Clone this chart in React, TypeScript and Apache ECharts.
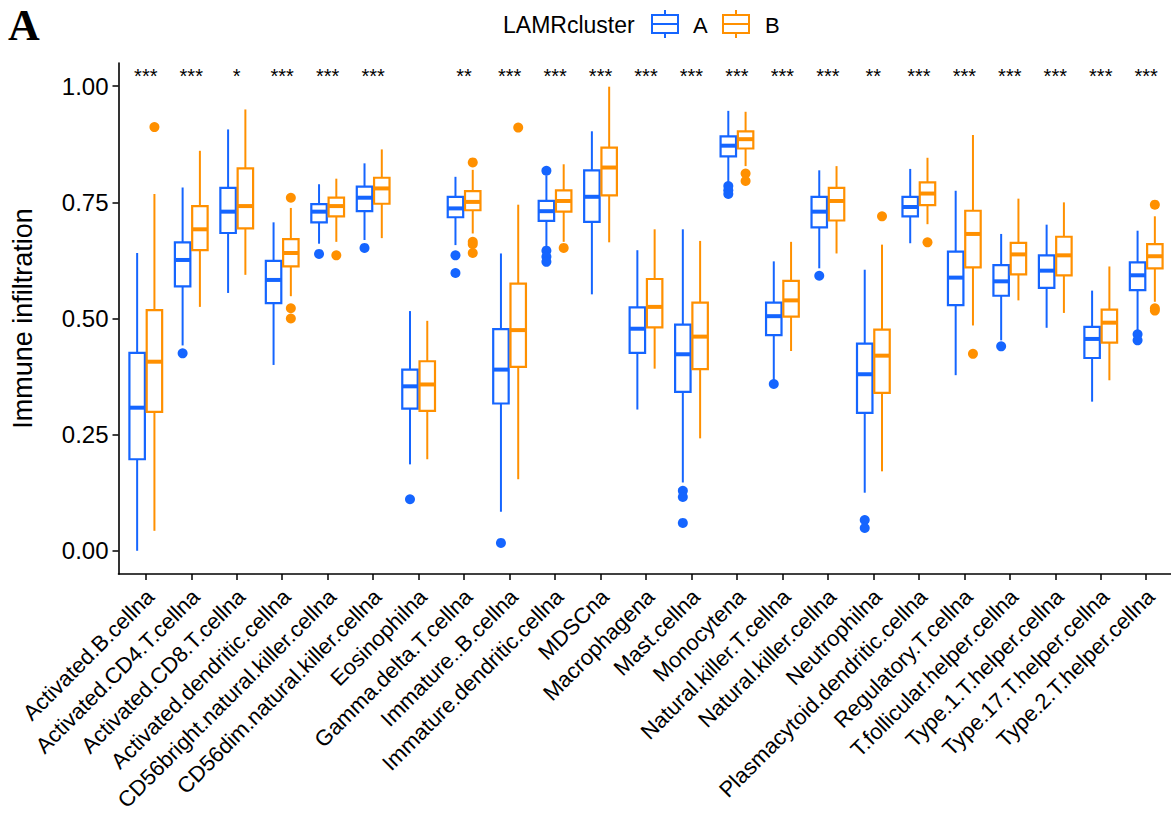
import React, { useEffect, useRef } from "react";
import * as echarts from "echarts";

const categories = [
  "Activated.B.cellna", "Activated.CD4.T.cellna", "Activated.CD8.T.cellna",
  "Activated.dendritic.cellna", "CD56bright.natural.killer.cellna",
  "CD56dim.natural.killer.cellna", "Eosinophilna", "Gamma.delta.T.cellna",
  "Immature..B.cellna", "Immature.dendritic.cellna", "MDSCna", "Macrophagena",
  "Mast.cellna", "Monocytena", "Natural.killer.T.cellna", "Natural.killer.cellna",
  "Neutrophilna", "Plasmacytoid.dendritic.cellna", "Regulatory.T.cellna",
  "T.follicular.helper.cellna", "Type.1.T.helper.cellna",
  "Type.17.T.helper.cellna", "Type.2.T.helper.cellna",
];

// [lower whisker, Q1, median, Q3, upper whisker]
const boxA = [
  [0.0, 0.197, 0.308, 0.426, 0.641],
  [0.442, 0.569, 0.626, 0.664, 0.782],
  [0.555, 0.684, 0.73, 0.781, 0.907],
  [0.4, 0.533, 0.583, 0.624, 0.707],
  [0.661, 0.707, 0.73, 0.746, 0.789],
  [0.669, 0.731, 0.76, 0.784, 0.834],
  [0.186, 0.306, 0.354, 0.39, 0.516],
  [0.658, 0.718, 0.737, 0.762, 0.805],
  [0.084, 0.317, 0.39, 0.477, 0.64],
  [0.654, 0.71, 0.731, 0.753, 0.808],
  [0.552, 0.708, 0.762, 0.819, 0.903],
  [0.304, 0.426, 0.478, 0.524, 0.647],
  [0.147, 0.342, 0.423, 0.487, 0.692],
  [0.791, 0.849, 0.872, 0.892, 0.947],
  [0.367, 0.464, 0.505, 0.534, 0.623],
  [0.608, 0.696, 0.73, 0.762, 0.819],
  [0.125, 0.297, 0.38, 0.446, 0.605],
  [0.662, 0.72, 0.74, 0.762, 0.822],
  [0.378, 0.529, 0.588, 0.644, 0.775],
  [0.453, 0.549, 0.58, 0.615, 0.682],
  [0.48, 0.566, 0.603, 0.636, 0.702],
  [0.321, 0.415, 0.456, 0.482, 0.56],
  [0.471, 0.561, 0.593, 0.621, 0.689],
];

const boxB = [
  [0.043, 0.299, 0.407, 0.518, 0.768],
  [0.525, 0.647, 0.692, 0.742, 0.861],
  [0.594, 0.694, 0.742, 0.823, 0.95],
  [0.548, 0.612, 0.641, 0.671, 0.738],
  [0.665, 0.72, 0.742, 0.76, 0.801],
  [0.673, 0.747, 0.78, 0.803, 0.864],
  [0.197, 0.301, 0.358, 0.408, 0.495],
  [0.683, 0.733, 0.751, 0.774, 0.82],
  [0.154, 0.396, 0.475, 0.575, 0.745],
  [0.665, 0.73, 0.753, 0.776, 0.832],
  [0.664, 0.765, 0.825, 0.868, 0.999],
  [0.392, 0.481, 0.525, 0.585, 0.692],
  [0.242, 0.391, 0.461, 0.534, 0.667],
  [0.828, 0.866, 0.886, 0.903, 0.945],
  [0.43, 0.504, 0.539, 0.581, 0.665],
  [0.64, 0.711, 0.753, 0.781, 0.828],
  [0.171, 0.34, 0.42, 0.476, 0.659],
  [0.703, 0.744, 0.769, 0.793, 0.846],
  [0.485, 0.61, 0.682, 0.732, 0.895],
  [0.539, 0.595, 0.638, 0.663, 0.758],
  [0.512, 0.593, 0.636, 0.676, 0.75],
  [0.367, 0.448, 0.491, 0.519, 0.612],
  [0.536, 0.608, 0.634, 0.66, 0.72],
];

// [category index, value]
const outliersA = [
  [1, 0.425], [4, 0.639], [5, 0.652], [6, 0.111], [7, 0.636], [7, 0.598],
  [8, 0.017], [9, 0.818], [9, 0.646], [9, 0.633], [9, 0.622], [12, 0.129],
  [12, 0.116], [12, 0.06], [13, 0.785], [13, 0.776], [13, 0.768], [14, 0.359],
  [15, 0.592], [16, 0.066], [16, 0.049], [19, 0.44], [22, 0.466], [22, 0.453],
];

const outliersB = [
  [0, 0.912], [3, 0.76], [3, 0.522], [3, 0.5], [4, 0.636], [7, 0.836],
  [7, 0.665], [7, 0.66], [7, 0.641], [8, 0.911], [9, 0.652], [13, 0.812],
  [13, 0.796], [16, 0.72], [17, 0.664], [18, 0.424], [22, 0.745], [22, 0.522],
  [22, 0.517],
];

const stars = [
  "***", "***", "*", "***", "***", "***", "", "**", "***", "***", "***", "***",
  "***", "***", "***", "***", "**", "***", "***", "***", "***", "***", "***",
];

const yTicks = [0, 0.25, 0.5, 0.75, 1.0];
const groups = ["A", "B"];
const colors = ["#1565FF", "#FF9000"];
const FONT = "Liberation Sans, Arial, sans-serif";
const STAR_Y = 1.022;
const DODGE = 0.19;
const HALF_W = 0.17;
const LABEL_SHIFT = 0.1;

function boxRender(sign: number, color: string) {
  return (params: any, api: any) => {
    const i = api.value(0);
    const unit = api.size([1, 0])[0];
    const base = api.coord([i, api.value(3)]);
    const cx = base[0] + sign * DODGE * unit;
    const hw = HALF_W * unit;
    const yLow = api.coord([i, api.value(1)])[1];
    const yQ1 = api.coord([i, api.value(2)])[1];
    const yMed = base[1];
    const yQ3 = api.coord([i, api.value(4)])[1];
    const yHigh = api.coord([i, api.value(5)])[1];
    return {
      type: "group",
      children: [
        { type: "line", shape: { x1: cx, y1: yHigh, x2: cx, y2: yQ3 }, style: { stroke: color, lineWidth: 2 } },
        { type: "line", shape: { x1: cx, y1: yQ1, x2: cx, y2: yLow }, style: { stroke: color, lineWidth: 2 } },
        { type: "rect", shape: { x: cx - hw, y: yQ3, width: hw * 2, height: yQ1 - yQ3 }, style: { fill: "#ffffff", stroke: color, lineWidth: 2.2 } },
        { type: "line", shape: { x1: cx - hw, y1: yMed, x2: cx + hw, y2: yMed }, style: { stroke: color, lineWidth: 4 } },
      ],
    };
  };
}

function outlierRender(sign: number, color: string) {
  return (params: any, api: any) => {
    const unit = api.size([1, 0])[0];
    const p = api.coord([api.value(0), api.value(1)]);
    return {
      type: "circle",
      shape: { cx: p[0] + sign * DODGE * unit, cy: p[1], r: 5 },
      style: { fill: color },
    };
  };
}

function legendIcon(x: number, color: string) {
  return {
    type: "group",
    children: [
      { type: "line", shape: { x1: x + 13, y1: 10, x2: x + 13, y2: 38 }, style: { stroke: color, lineWidth: 2 } },
      { type: "rect", shape: { x: x, y: 15, width: 26, height: 18 }, style: { fill: "#fff", stroke: color, lineWidth: 2 } },
      { type: "line", shape: { x1: x, y1: 24, x2: x + 26, y2: 24 }, style: { stroke: color, lineWidth: 2 } },
    ],
  };
}

export default function App() {
  const ref = useRef<HTMLDivElement>(null);
  useEffect(() => {
    if (!ref.current) return;
    const chart = echarts.init(ref.current, undefined, { renderer: "svg" });
    const dataA = boxA.map((b, i) => [i, ...b]);
    const dataB = boxB.map((b, i) => [i, ...b]);
    const starData = stars.map((s, i) => [i, STAR_Y]);
    chart.setOption({
      animation: false,
      backgroundColor: "#ffffff",
      textStyle: { fontFamily: FONT },
      grid: { left: 118.5, top: 63, width: 1055, height: 511, containLabel: false, outerBoundsMode: "none" },
      xAxis: {
        type: "value",
        min: -0.6,
        max: 22.6,
        splitLine: { show: false },
        axisLine: { show: true, onZero: false, lineStyle: { color: "#000", width: 1.6 } },
        axisTick: { show: true, length: 6, customValues: categories.map((_, i) => i), lineStyle: { color: "#000", width: 1.5 } },
        axisLabel: {
          show: true,
          customValues: categories.map((_, i) => i + LABEL_SHIFT),
          formatter: (v: number) => categories[Math.round(v - LABEL_SHIFT)] ?? "",
          rotate: 45,
          margin: 19,
          fontSize: 22,
          color: "#000",
          fontFamily: FONT,
        },
      },
      yAxis: {
        type: "value",
        min: -0.05,
        max: 1.05,
        name: "Immune infiltration",
        nameLocation: "middle",
        nameGap: 82,
        nameTextStyle: { fontSize: 27, color: "#000", fontFamily: FONT },
        splitLine: { show: false },
        axisLine: { show: true, onZero: false, lineStyle: { color: "#000", width: 1.6 } },
        axisTick: { show: true, length: 6, customValues: yTicks, lineStyle: { color: "#000", width: 1.5 } },
        axisLabel: {
          customValues: yTicks,
          formatter: (v: number) => v.toFixed(2),
          fontSize: 24,
          margin: 10,
          color: "#000",
          fontFamily: FONT,
        },
      },
      series: [
        { type: "custom", name: groups[0], renderItem: boxRender(-1, colors[0]), data: dataA, encode: { x: 0, y: [1, 2, 3, 4, 5] }, clip: false, z: 2 },
        { type: "custom", name: groups[1], renderItem: boxRender(1, colors[1]), data: dataB, encode: { x: 0, y: [1, 2, 3, 4, 5] }, clip: false, z: 2 },
        { type: "custom", name: groups[0] + " outliers", renderItem: outlierRender(-1, colors[0]), data: outliersA, encode: { x: 0, y: 1 }, clip: false, z: 3 },
        { type: "custom", name: groups[1] + " outliers", renderItem: outlierRender(1, colors[1]), data: outliersB, encode: { x: 0, y: 1 }, clip: false, z: 3 },
        {
          type: "custom",
          name: "significance",
          data: starData,
          encode: { x: 0, y: 1 },
          clip: false,
          renderItem: (params: any, api: any) => {
            const p = api.coord([api.value(0), api.value(1)]);
            return {
              type: "text",
              x: p[0],
              y: p[1],
              style: { text: stars[params.dataIndex], fontSize: 20, fill: "#000", align: "center", verticalAlign: "middle", fontFamily: FONT },
            };
          },
        },
      ],
      graphic: [
        { type: "text", left: 8, top: 3, style: { text: "A", fontSize: 44, fontWeight: "bold", fontFamily: "Liberation Serif, Times New Roman, serif", fill: "#000" } },
        { type: "text", x: 503, y: 25, style: { text: "LAMRcluster", fontSize: 23, fontFamily: FONT, fill: "#000", verticalAlign: "middle" } },
        legendIcon(652, colors[0]),
        { type: "text", x: 693, y: 25, style: { text: groups[0], fontSize: 22, fontFamily: FONT, fill: "#000", verticalAlign: "middle" } },
        legendIcon(723, colors[1]),
        { type: "text", x: 765, y: 25, style: { text: groups[1], fontSize: 22, fontFamily: FONT, fill: "#000", verticalAlign: "middle" } },
      ],
    });
    return () => chart.dispose();
  }, []);
  return (
    <div
      ref={ref}
      style={{ position: "fixed", left: 0, top: 0, width: 1171, height: 837, background: "#fff" }}
    />
  );
}
